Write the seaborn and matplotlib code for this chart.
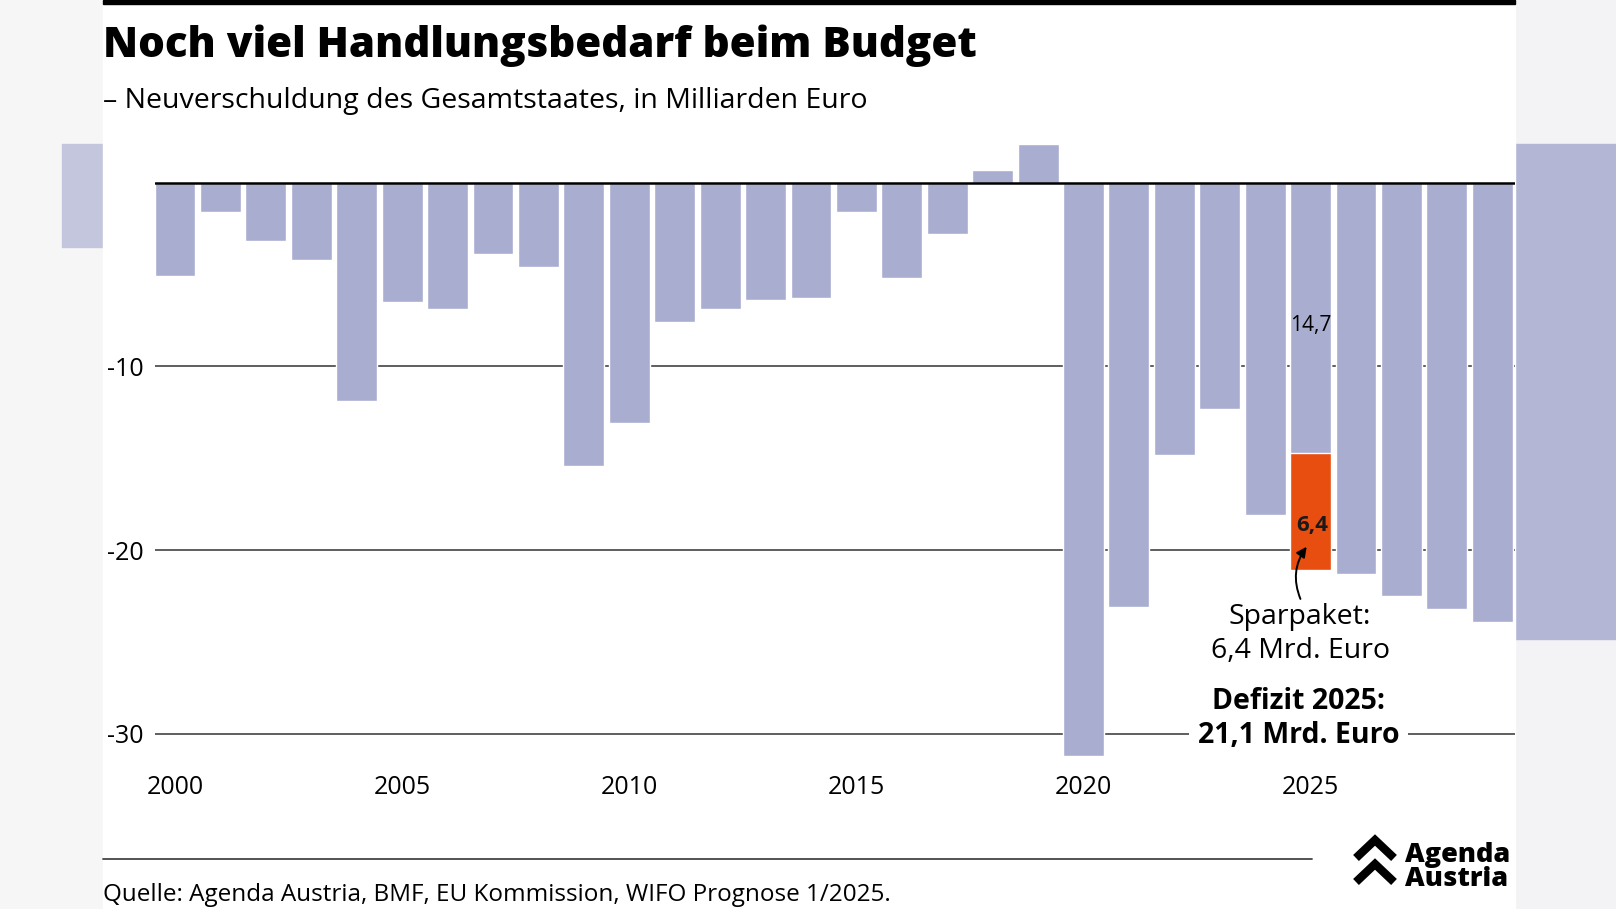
#! /usr/bin/env python3

import numpy as np
import pandas as pd
import matplotlib.pyplot as plt
import seaborn as sns
from matplotlib.patches import Rectangle
from matplotlib.lines import Line2D

sns.set_theme(style="white")
plt.rcParams['font.family'] = ['Open Sans', 'DejaVu Sans']
plt.rcParams['text.color'] = 'black'
plt.rcParams['xtick.color'] = 'black'
plt.rcParams['ytick.color'] = 'black'

# Neuverschuldung Gesamtstaat, Mrd. Euro
jahre = [str(j) for j in range(2000, 2030)]
saldo = [-5.1, -1.6, -3.2, -4.2, -11.9, -6.5, -6.9, -3.9, -4.6, -15.4,
         -13.1, -7.6, -6.9, -6.4, -6.3, -1.6, -5.2, -2.8, 0.7, 2.1,
         -31.2, -23.1, -14.8, -12.3, -18.1, -21.1, -21.3, -22.5, -23.2, -23.9]
paket_jahr = "2025"
ohne_paket = -14.7
sparpaket = 6.4
yticks = [-10, -20, -30]
xtick_jahre = ["2000", "2005", "2010", "2015", "2020", "2025"]

LILA = "#a9aed0"
ORANGE = "#e84e0f"

W, H = 1616, 909
fig = plt.figure(figsize=(W / 100, H / 100), dpi=100, facecolor="#f3f3f5")

# blurred screenshot edges + white card
fig.patches.append(Rectangle((0, 0), 103 / W, 1, transform=fig.transFigure,
                             color="#f6f6f7", zorder=0))
fig.patches.append(Rectangle((62 / W, 1 - 247 / H), 41 / W, 103 / H, transform=fig.transFigure,
                             color="#c3c6dc", zorder=0))
fig.patches.append(Rectangle((1515 / W, 1 - 639 / H), 101 / W, 495 / H, transform=fig.transFigure,
                             color="#b3b7d5", zorder=0))
fig.patches.append(Rectangle((103 / W, 0), 1412 / W, 1, transform=fig.transFigure,
                             color="white", zorder=0.5))
fig.patches.append(Rectangle((103 / W, 1 - 4 / H), 1412 / W, 4 / H, transform=fig.transFigure,
                             color="black", zorder=1))

ax = fig.add_axes([154.6 / W, 1 - 770.5 / H, (1515 - 154.6) / W, (770.5 - 127.5) / H])
ax.set_zorder(2)
ax.set_facecolor("none")

df = pd.DataFrame({"jahr": jahre, "saldo": saldo})
farben = {j: (ORANGE if j == paket_jahr else LILA) for j in jahre}
sns.barplot(data=df, x="jahr", y="saldo", hue="jahr", palette=farben, legend=False,
            order=jahre, width=0.9, saturation=1, ax=ax, zorder=2)
sns.barplot(x=[paket_jahr], y=[ohne_paket], order=jahre, color=LILA,
            width=0.9, saturation=1, ax=ax, zorder=3)

for y in yticks:
    ax.axhline(y, color="#333333", lw=1.1, zorder=1)
ax.axhline(0, color="black", lw=1.8, zorder=4)

ax.set_xlim(-0.45, len(jahre) - 0.5)
ax.set_ylim(-32, 3)
ax.set_yticks(yticks)
ax.set_yticklabels([str(y) for y in yticks], fontsize=18, fontweight="medium")
ax.set_xticks([jahre.index(j) for j in xtick_jahre])
ax.set_xticklabels(xtick_jahre, fontsize=18, fontweight="medium")
ax.tick_params(axis="y", length=0, pad=8)
ax.tick_params(axis="x", length=0, pad=3)
ax.set_xlabel("")
ax.set_ylabel("")
sns.despine(ax=ax, left=True, bottom=True)

i25 = jahre.index(paket_jahr)
ax.text(i25, ohne_paket / 2 - 0.45, "14,7", ha="center", va="center",
        fontsize=15, zorder=5)
ax.text(i25 + 0.03, ohne_paket - sparpaket * 0.62, "6,4", ha="center", va="center",
        fontsize=16, fontweight="bold", color="#1a1a1a", zorder=5)
ax.annotate("", xy=(i25 - 0.05, -19.7), xytext=(i25 - 0.2, -22.8),
            arrowprops=dict(arrowstyle="-|>,head_length=0.5,head_width=0.25", lw=1.4,
                            color="black", connectionstyle="arc3,rad=-0.3"), zorder=6)
ax.text(i25 - 0.23, -23.67, "Sparpaket:", ha="center", va="center", fontsize=20.5)
ax.text(i25 - 0.23, -25.47, "6,4 Mrd. Euro", ha="center", va="center", fontsize=20.5)
ax.text(i25 - 0.27, -28.27, "Defizit 2025:", ha="center", va="center", fontsize=20.5,
        fontweight="bold")
ax.text(i25 - 0.27, -30.1, "21,1 Mrd. Euro", ha="center", va="center", fontsize=20.5,
        fontweight="bold", zorder=5,
        bbox=dict(boxstyle="square,pad=0.3", fc="white", ec="none"))

# header
fig.text(103 / W, 1 - 46 / H, "Noch viel Handlungsbedarf beim Budget", ha="left", va="center",
         fontsize=30.3, fontweight="heavy", zorder=3)
fig.text(103 / W, 1 - 101 / H, "– Neuverschuldung des Gesamtstaates, in Milliarden Euro",
         ha="left", va="center", fontsize=20.5, zorder=3)

# footer
fig.lines.append(Line2D([103 / W, 1312 / W], [1 - 858.5 / H] * 2, transform=fig.transFigure,
                        color="#444444", lw=1.3, zorder=3))
fig.text(103 / W, 1 - 895 / H, "Quelle: Agenda Austria, BMF, EU Kommission, WIFO Prognose 1/2025.",
         ha="left", va="center", fontsize=17.5, zorder=3)

# logo
for top in (840, 864):
    xs = np.array([1356, 1375, 1394]) / W
    ys = 1 - np.array([top + 18, top, top + 18]) / H
    fig.lines.append(Line2D(xs, ys, transform=fig.transFigure, color="black", lw=6,
                            solid_joinstyle="miter", solid_capstyle="butt", zorder=3))
fig.text(1405 / W, 1 - 855 / H, "Agenda", ha="left", va="center", fontsize=19.5,
         fontweight="heavy", zorder=3)
fig.text(1405 / W, 1 - 879 / H, "Austria", ha="left", va="center", fontsize=19.5,
         fontweight="heavy", zorder=3)

fig.savefig("out.png", dpi=100, facecolor=fig.get_facecolor())
